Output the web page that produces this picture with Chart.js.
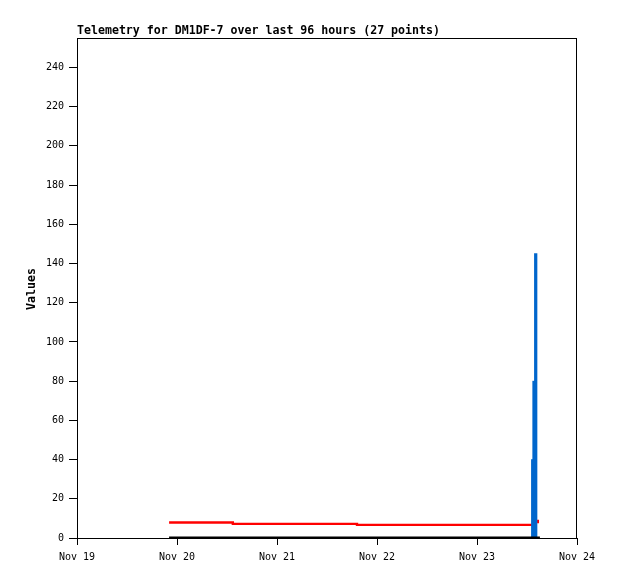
<!DOCTYPE html>
<html>
<head>
<meta charset="utf-8">
<script src="https://cdn.jsdelivr.net/npm/chart.js@4/dist/chart.umd.min.js"></script>
<style>
    body { margin: 0; background: #fff; }
    #wrap { width: 618px; height: 579px; }
</style>
</head>
<body>
<div id="wrap"><canvas id="telemetryChart" width="618" height="579"></canvas></div>
<script>
// hours since Nov 19 00:00
const dayLabels = ['Nov 19', 'Nov 20', 'Nov 21', 'Nov 22', 'Nov 23', 'Nov 24'];

const redHours = [22.1, 37.4, 67.2, 109.7, 110.6];
const redValues = [7.9, 7.2, 6.7, 8.7, 7.5];

const blackHours = [22.1, 111.1];
const blackValues = [0, 0];

const blueHours = [109.37, 109.68, 110.09];
const blueValues = [40, 80, 145];

const titleText = 'Telemetry for DM1DF-7 over last 96 hours (27 points)';
const yTitle = 'Values';

const toPoints = (xs, ys) => xs.map((x, i) => ({ x: x, y: ys[i] }));

const frameAndText = {
    id: 'frameAndText',
    afterDraw(chart) {
        const { ctx, chartArea } = chart;
        ctx.save();
        ctx.strokeStyle = '#000';
        ctx.lineWidth = 1;
        ctx.strokeRect(chartArea.left + 0.5, chartArea.top + 0.5,
            chartArea.right - chartArea.left - 1, chartArea.bottom - chartArea.top);

        ctx.fillStyle = '#000';
        ctx.font = 'bold 11.6px "DejaVu Sans Mono"';
        ctx.textAlign = 'left';
        ctx.textBaseline = 'alphabetic';
        ctx.fillText(titleText, 77, 34);

        ctx.translate(32, 289);
        ctx.rotate(-Math.PI / 2);
        ctx.textAlign = 'center';
        ctx.textBaseline = 'middle';
        ctx.fillText(yTitle, 0, 0);
        ctx.restore();
    }
};

new Chart(document.getElementById('telemetryChart'), {
    type: 'bar',
    data: {
        datasets: [
            {
                type: 'line',
                data: toPoints(blackHours, blackValues),
                borderColor: '#000',
                borderWidth: 3,
                pointRadius: 0,
                order: 0
            },
            {
                type: 'bar',
                data: toPoints(blueHours, blueValues),
                backgroundColor: '#0066cc',
                borderWidth: 0,
                barThickness: 2.6,
                order: 1
            },
            {
                type: 'line',
                data: toPoints(redHours, redValues),
                borderColor: '#ff0000',
                borderWidth: 2.4,
                pointRadius: 0,
                stepped: 'before',
                order: 2
            }
        ]
    },
    options: {
        responsive: false,
        animation: false,
        layout: { padding: { top: 38, right: 41, left: 0, bottom: 0 } },
        plugins: {
            legend: { display: false },
            tooltip: { enabled: false },
            title: { display: false }
        },
        scales: {
            x: {
                type: 'linear',
                min: 0,
                max: 120,
                offset: false,
                afterFit: (scale) => { scale.height = 41; },
                grid: { drawOnChartArea: false, offset: false, tickLength: 7, color: '#000' },
                border: { color: '#000' },
                ticks: {
                    stepSize: 24,
                    autoSkip: false,
                    maxRotation: 0,
                    padding: 6,
                    color: '#000',
                    font: { family: '"DejaVu Sans Mono"', size: 10 },
                    callback: (v) => dayLabels[Math.round(v / 24)]
                }
            },
            y: {
                min: 0,
                max: 255,
                afterFit: (scale) => { scale.width = 77; },
                grid: { drawOnChartArea: false, tickLength: 8, color: '#000' },
                border: { color: '#000' },
                ticks: {
                    stepSize: 20,
                    includeBounds: false,
                    padding: 5,
                    color: '#000',
                    font: { family: '"DejaVu Sans Mono"', size: 10 }
                }
            }
        }
    },
    plugins: [frameAndText]
});
</script>
</body>
</html>
